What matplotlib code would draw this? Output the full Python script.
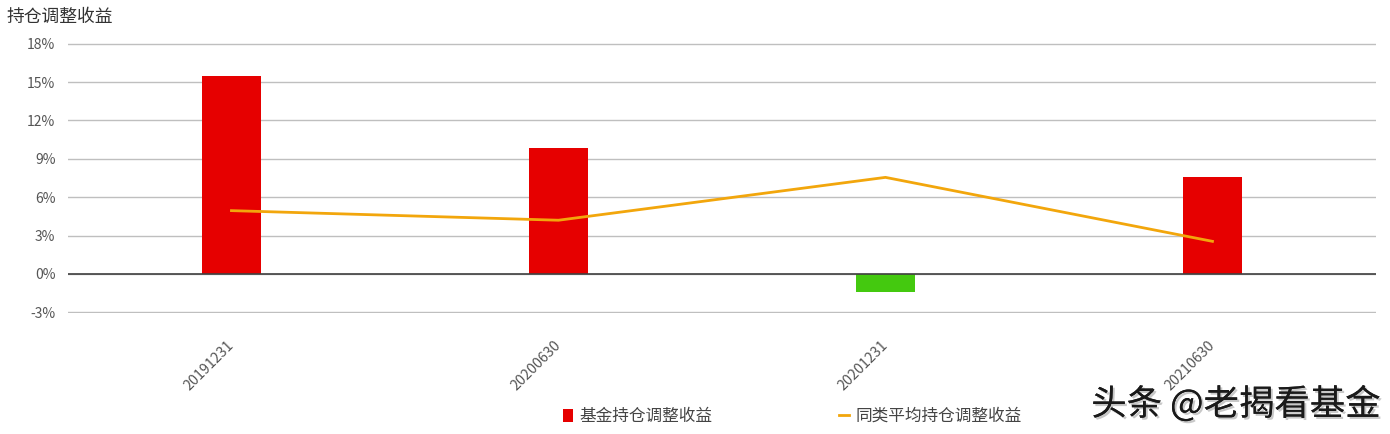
import numpy as np
import matplotlib
matplotlib.use('Agg')
import matplotlib.pyplot as plt
from matplotlib.patches import Patch
from matplotlib.lines import Line2D
from matplotlib.ticker import FuncFormatter
import matplotlib.patheffects as pe

plt.rcParams['font.family'] = ['Noto Sans CJK SC', 'DejaVu Sans']

### data (percent)
dates = ['20191231', '20200630', '20201231', '20210630']
fund_adj = [15.45, 9.85, -1.4, 7.6]
peer_avg = [4.95, 4.2, 7.55, 2.55]

### colours
red = '#E60000'
green = '#44C90F'
orange = '#F2A60C'

fig = plt.figure(figsize=(13.9, 4.34), dpi=100)
ax = fig.add_axes([0.0489, 0.2788, 0.9410, 0.6221])

x = np.arange(len(dates))
bar_colors = [red if v >= 0 else green for v in fund_adj]
ax.bar(x, fund_adj, width=0.178, color=bar_colors, zorder=3)
ax.plot(x, peer_avg, color=orange, linewidth=2, zorder=4)

ax.set_xlim(-0.5, len(dates) - 0.5)
ax.set_ylim(-3.05, 18.05)
ax.set_yticks(np.arange(-3, 19, 3))
ax.yaxis.set_major_formatter(FuncFormatter(lambda v, p: '%d%%' % v))
ax.grid(axis='y', color='#BFBFBF', linewidth=1, zorder=0)
ax.axhline(0, color='#404040', linewidth=1.2, zorder=5)

for s in ax.spines.values():
    s.set_visible(False)
ax.tick_params(axis='both', length=0, labelcolor='#555555')
ax.tick_params(axis='y', pad=9, labelsize=10)
ax.set_xticks(x)
ax.set_xticklabels(dates, rotation=45, ha='right', va='center', rotation_mode='anchor')
ax.tick_params(axis='x', pad=22, labelsize=10.3)

### title
fig.text(0.005, 0.962, '持仓调整收益', fontsize=12.8, color='#333333', va='center', ha='left')

### legend
handles = [Patch(facecolor=red, edgecolor='none'),
           Line2D([0], [0], color=orange, linewidth=2)]
fig.legend(handles, ['基金持仓调整收益', '同类平均持仓调整收益'],
           loc='center', bbox_to_anchor=(0.570, 0.04), ncol=2, frameon=False,
           fontsize=12, handlelength=0.6, handleheight=0.8, handletextpad=0.4,
           columnspacing=7.6, labelcolor='#444444')

### watermark
fig.text(0.993, 0.068, '头条 @老揭看基金', fontsize=25.5, color='#1a1a1a',
         ha='right', va='center',
         path_effects=[pe.withSimplePatchShadow(offset=(1.5, -1.5), shadow_rgbFace='#bbbbbb', alpha=0.8),
                       pe.Normal()])

fig.savefig('out.png', dpi=100)
